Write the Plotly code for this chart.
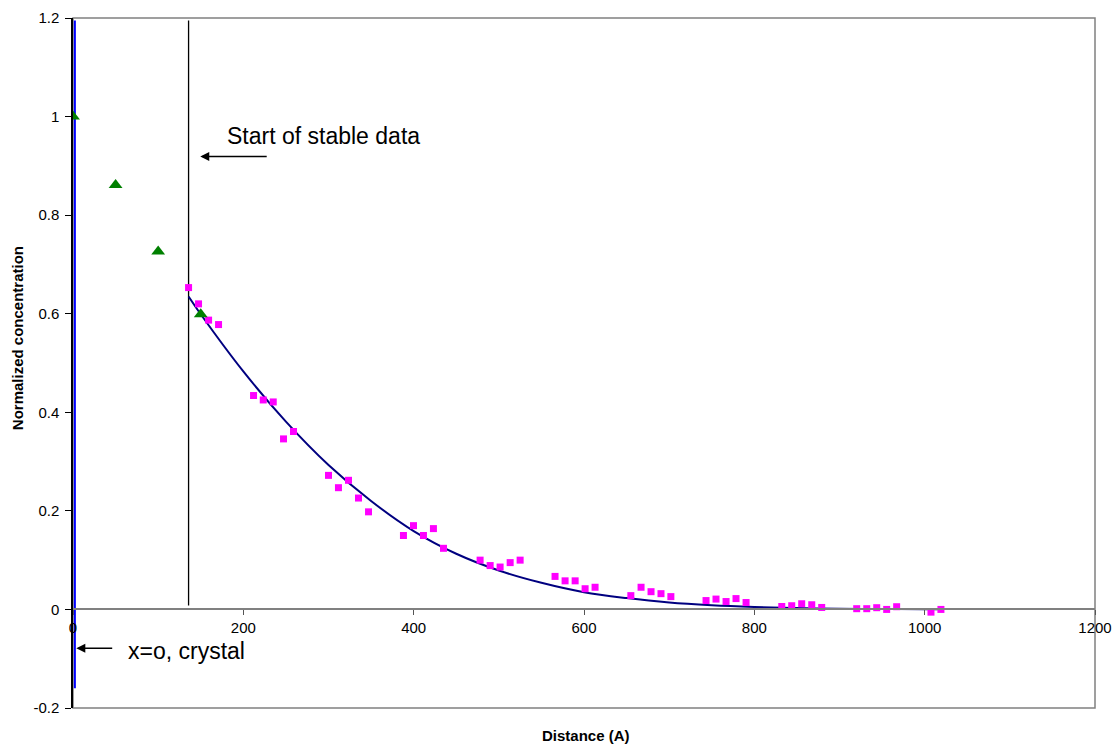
import plotly.graph_objects as go

# Measured data (pink squares)
meas_x = [135.7, 147.4, 159.2, 170.9,
          212.0, 223.4, 235.1, 247.2, 258.9,
          300.0, 311.7, 323.5, 335.2, 347.0,
          388.0, 399.8, 411.5, 423.2, 435.0,
          478.0, 489.8, 501.5, 513.3, 525.0,
          566.0, 577.8, 589.6, 601.3, 613.0,
          655.0, 667.0, 678.7, 690.4, 702.0,
          743.3, 755.0, 766.8, 778.5, 790.3,
          832.2, 843.9, 855.6, 867.4, 879.1,
          920.2, 932.0, 943.7, 955.4, 967.1,
          1007.4, 1019.1]
meas_y = [0.653, 0.620, 0.587, 0.578,
          0.434, 0.425, 0.421, 0.346, 0.361,
          0.272, 0.247, 0.262, 0.226, 0.198,
          0.150, 0.170, 0.150, 0.164, 0.124,
          0.100, 0.089, 0.086, 0.095, 0.100,
          0.067, 0.058, 0.058, 0.042, 0.045,
          0.028, 0.045, 0.036, 0.032, 0.026,
          0.018, 0.021, 0.016, 0.022, 0.014,
          0.006, 0.0075, 0.0115, 0.0095, 0.004,
          0.0015, 0.0015, 0.0035, 0.0, 0.0055,
          -0.0055, 0.0]

# Model points (green triangles)
model_x = [0, 50, 100, 150]
model_y = [1.0, 0.861, 0.726, 0.599]

# Fitted curve (navy line)
fit_x = [135.7, 150, 200, 250, 300, 350, 400, 450, 500, 550, 600, 650,
         700, 750, 800, 850, 900, 950, 1000, 1019]
fit_y = [0.635, 0.599, 0.483, 0.381, 0.293, 0.220, 0.159, 0.113, 0.079,
         0.054, 0.035, 0.023, 0.014, 0.0085, 0.005, 0.0028, 0.0015, 0.0008,
         0.0004, 0.0003]

# Crystal boundary (blue) and start of stable data (black)
crystal_x = [2.2, 2.2]
crystal_y = [1.195, -0.16]
stable_x = [135.7, 135.7]
stable_y = [1.195, 0.008]

x_ticks = [0, 200, 400, 600, 800, 1000, 1200]
y_ticks = [-0.2, 0, 0.2, 0.4, 0.6, 0.8, 1, 1.2]
y_tick_text = ["-0.2", "0", "0.2", "0.4", "0.6", "0.8", "1", "1.2"]

FONT = "Liberation Sans, Arial, sans-serif"

fig = go.Figure()
fig.add_trace(go.Scatter(x=crystal_x, y=crystal_y, mode="lines",
                         line=dict(color="#0000FF", width=2), name="crystal"))
fig.add_trace(go.Scatter(x=stable_x, y=stable_y, mode="lines",
                         line=dict(color="#000000", width=1.3), name="stable"))
fig.add_trace(go.Scatter(x=fit_x, y=fit_y, mode="lines",
                         line=dict(color="#000080", width=2, shape="spline"),
                         name="fit"))
fig.add_trace(go.Scatter(x=meas_x, y=meas_y, mode="markers",
                         marker=dict(symbol="square", size=7, color="#FF00FF"),
                         name="data"))
fig.add_trace(go.Scatter(x=model_x, y=model_y, mode="markers",
                         marker=dict(symbol="triangle-up", size=12, color="#008000"),
                         name="model"))

fig.update_layout(
    width=1114, height=744,
    margin=dict(l=73, r=19, t=18, b=36),
    paper_bgcolor="white", plot_bgcolor="white",
    showlegend=False,
    font=dict(family=FONT, color="black", size=15),
    xaxis=dict(range=[0, 1200], tickvals=x_ticks, ticks="outside", ticklen=5,
               tickcolor="#555555", showline=True, linecolor="#808080",
               linewidth=1.5, showgrid=False, zeroline=False,
               anchor="free", position=0.2 / 1.4, automargin=False,
               tickfont=dict(size=15)),
    yaxis=dict(range=[-0.2, 1.2], tickvals=y_ticks, ticktext=y_tick_text,
               ticks="outside", ticklen=6, tickcolor="black", showline=True,
               linecolor="black", linewidth=1.5, showgrid=False, zeroline=False,
               automargin=False, ticklabelstandoff=3, tickfont=dict(size=15)),
    shapes=[dict(type="rect", xref="paper", yref="paper", x0=0, y0=0, x1=1, y1=1,
                 line=dict(color="#808080", width=1.5), layer="below")],
)

annotations = [
    dict(text="Start of stable data", x=178.8, y=0.961, xref="x", yref="y",
         xanchor="left", yanchor="middle", showarrow=False,
         font=dict(size=23, family=FONT)),
    dict(text="", x=149.4, y=0.919, ax=229.2, ay=0.919, xref="x", yref="y",
         axref="x", ayref="y", showarrow=True, arrowhead=2, arrowsize=1.2,
         arrowwidth=1.5, arrowcolor="black"),
    dict(text="x=o, crystal", x=62.6, y=-0.0845, xref="x", yref="y",
         xanchor="left", yanchor="middle", showarrow=False,
         font=dict(size=23, family=FONT)),
    dict(text="", x=3.9, y=-0.079, ax=47.8, ay=-0.079, xref="x", yref="y",
         axref="x", ayref="y", showarrow=True, arrowhead=2, arrowsize=1.2,
         arrowwidth=1.5, arrowcolor="black"),
    dict(text="<b>Normalized concentration</b>", x=0, xshift=-56, y=0.536,
         xref="paper", yref="paper", textangle=-90, showarrow=False,
         xanchor="center", yanchor="middle", font=dict(size=15, family=FONT)),
    dict(text="<b>Distance (A)</b>", x=0.502, y=0, yshift=-27,
         xref="paper", yref="paper", showarrow=False,
         xanchor="center", yanchor="middle", font=dict(size=15, family=FONT)),
]
fig.update_layout(annotations=annotations)

# remove the page's default body margin so the figure sits at the top-left
fig.write_html("out.html",
               config={"displayModeBar": False},
               post_script="document.body.style.margin='0';"
                           "document.body.style.overflow='hidden';")
